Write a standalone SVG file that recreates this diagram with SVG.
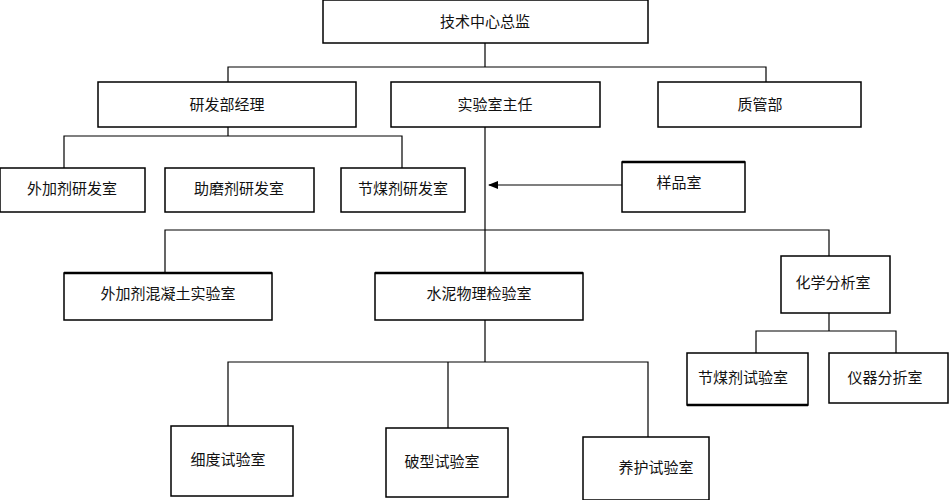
<svg xmlns="http://www.w3.org/2000/svg" width="950" height="500" viewBox="0 0 950 500">
<style>
.b{fill:#fff;stroke:#000;stroke-width:1.5}
.t{font-family:"Liberation Sans","Noto Sans CJK SC",sans-serif;font-size:15px;fill:#111;text-anchor:middle;dominant-baseline:central}
.c{fill:none;stroke:#000;stroke-width:1.2}
.k{stroke:#000;stroke-width:2.5}
</style>
<defs><marker id="a" markerWidth="10" markerHeight="8" refX="9" refY="4" orient="auto" markerUnits="userSpaceOnUse"><path d="M0,0L10,4L0,8z"/></marker></defs>
<rect width="950" height="500" fill="#fff"/>
<g id="connectors">
<path class="c" d="M485,43V67M228,82V67H766V82"/>
<path class="c" d="M228,127V136M64,168V136H402V168"/>
<path class="c" d="M485,127V273"/>
<path class="c" d="M622,185H489" marker-end="url(#a)" stroke-width="1.5"/>
<path class="c" d="M165,273V230H829V256" stroke-width="2"/>
<path class="c" d="M485,320V362M228,426V362H648V437M448,362V428"/>
<path class="c" d="M829,313V331M756,353V331H896V353"/>
</g>
<g id="n1"><rect class="b" x="323" y="0" width="325" height="43"/><text class="t" x="485" y="21">技术中心总监</text></g>
<g id="n2"><rect class="b" x="98" y="82" width="258" height="45"/><text class="t" x="227" y="104">研发部经理</text></g>
<g id="n3"><rect class="b" x="391" y="82" width="209" height="45"/><text class="t" x="495" y="104">实验室主任</text></g>
<g id="n4"><rect class="b" x="658" y="82" width="203" height="45"/><text class="t" x="760" y="104">质管部</text></g>
<g id="n5"><rect class="b" x="0" y="168" width="145" height="44"/><text class="t" x="72" y="188">外加剂研发室</text></g>
<g id="n6"><rect class="b" x="165" y="168" width="149" height="44"/><text class="t" x="239" y="188">助磨剂研发室</text></g>
<g id="n7"><rect class="b" x="341" y="168" width="124" height="44"/><text class="t" x="403" y="188">节煤剂研发室</text></g>
<g id="n8"><rect class="b" x="622" y="162" width="123" height="50"/><line class="k" x1="622" y1="162" x2="745" y2="162"/><text class="t" x="679" y="182">样品室</text></g>
<g id="n9"><rect class="b" x="64" y="273" width="208" height="47"/><line class="k" x1="64" y1="273" x2="272" y2="273"/><text class="t" x="168" y="293">外加剂混凝土实验室</text></g>
<g id="n10"><rect class="b" x="375" y="273" width="208" height="47"/><line class="k" x1="375" y1="273" x2="583" y2="273"/><text class="t" x="479" y="293">水泥物理检验室</text></g>
<g id="n11"><rect class="b" x="781" y="256" width="109" height="57"/><text class="t" x="833" y="282">化学分析室</text></g>
<g id="n12"><rect class="b" x="171" y="426" width="122" height="70"/><text class="t" x="228" y="459">细度试验室</text></g>
<g id="n13"><rect class="b" x="386" y="428" width="122" height="69"/><text class="t" x="442" y="461">破型试验室</text></g>
<g id="n14"><rect class="b" x="583" y="437" width="126" height="63"/><text class="t" x="656" y="467">养护试验室</text></g>
<g id="n15"><rect class="b" x="687" y="353" width="121" height="52"/><line class="k" x1="687" y1="405" x2="808" y2="405"/><text class="t" x="743" y="377">节煤剂试验室</text></g>
<g id="n16"><rect class="b" x="829" y="353" width="119" height="50"/><text class="t" x="885" y="377">仪器分折室</text></g>
</svg>
